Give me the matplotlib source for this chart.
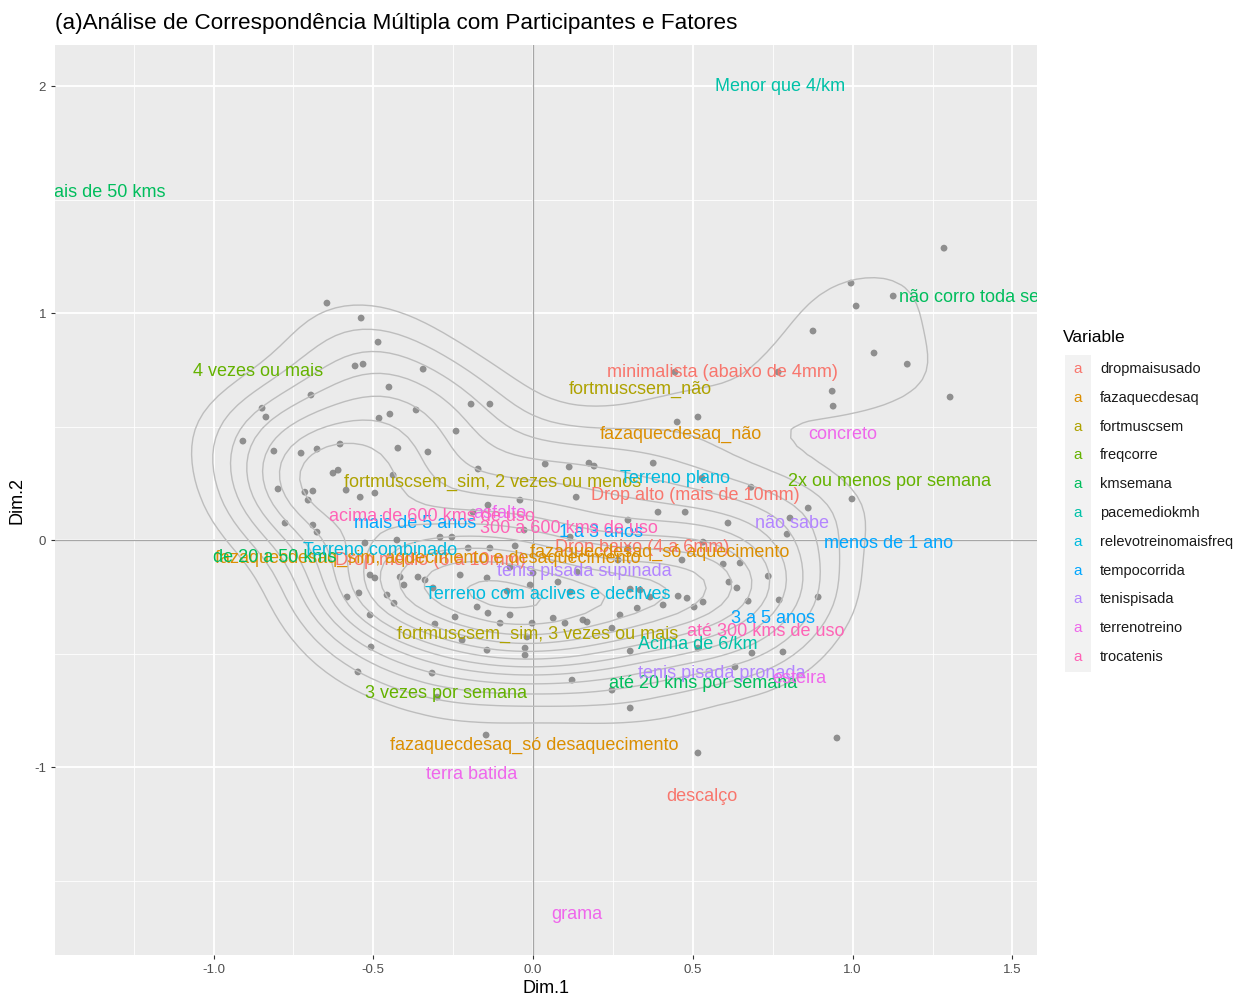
import numpy as np
import matplotlib
matplotlib.use("Agg")
import matplotlib.pyplot as plt
from matplotlib.ticker import MultipleLocator, MaxNLocator
from matplotlib.patches import Rectangle

plt.rcParams['font.family'] = ['Liberation Sans', 'DejaVu Sans']

# participantes (coordenadas)
ind_dim1 = [-0.645, -0.538, -0.485, -0.557, -0.532, -0.344, -0.451, -0.695, -0.848, -0.836,
            -0.482, -0.448, -0.366, -0.908, -0.811, -0.726, -0.676, -0.604, -0.423, -0.329,
            -0.194, -0.135, -0.241, 0.038, 0.113, 0.175, 0.191, 0.376, 0.451, 0.516,
            -0.172, 1.286, 0.995, 1.011, 0.876, 1.067, 1.171, 1.305, 0.936, 0.939,
            0.767, 0.444, 1.127, -0.626, -0.610, -0.438, -0.798, -0.714, -0.689, -0.704,
            -0.585, -0.541, -0.495, -0.776, -0.689, -0.676, -0.526, -0.426, -0.510, -0.495,
            -0.416, -0.404, -0.360, -0.338, -0.582, -0.545, -0.457, -0.435, -0.510, -0.507,
            -0.548, -0.316, 0.135, 0.391, 0.476, -0.141, -0.041, -0.188, -0.028, 0.116,
            -0.291, -0.056, -0.135, 0.297, 0.466, -0.228, -0.144, -0.009, -0.313, 0.116,
            -0.081, 0.304, 0.454, 0.482, -0.175, -0.141, -0.072, -0.244, 0.063, 0.169,
            0.272, 0.326, 0.407, -0.307, -0.103, -0.003, 0.100, 0.247, -0.222, -0.144,
            -0.025, -0.025, 0.304, 0.122, 0.304, 0.247, 0.998, 0.861, 0.682, 0.610,
            0.804, 0.795, 0.532, 0.595, 0.648, 0.736, 0.613, 0.638, 0.892, 0.770,
            0.673, 0.532, 0.504, 0.685, 0.782, 0.516, 0.632, 0.951, 0.516, -0.147,
            -0.300, 0.156, -0.019, 0.529, 0.297, -0.072, 0.000, 0.138, 0.266, 0.078,
            0.335, 0.366, -0.254, -0.203]
ind_dim2 = [1.044, 0.978, 0.872, 0.767, 0.775, 0.753, 0.674, 0.639, 0.581, 0.542,
            0.537, 0.555, 0.573, 0.436, 0.392, 0.383, 0.401, 0.423, 0.405, 0.388,
            0.599, 0.599, 0.480, 0.335, 0.322, 0.339, 0.326, 0.339, 0.520, 0.542,
            0.313, 1.286, 1.132, 1.031, 0.921, 0.824, 0.775, 0.630, 0.656, 0.590,
            0.740, 0.740, 1.075, 0.295, 0.308, 0.286, 0.225, 0.211, 0.216, 0.176,
            0.220, 0.189, 0.207, 0.075, 0.066, 0.035, -0.013, 0.000, -0.154, -0.167,
            -0.163, -0.198, -0.163, -0.176, -0.251, -0.233, -0.242, -0.278, -0.330, -0.471,
            -0.581, -0.586, 0.189, 0.123, 0.123, 0.154, 0.176, 0.123, 0.044, 0.013,
            0.013, -0.026, -0.035, -0.035, -0.088, -0.154, -0.167, -0.198, -0.211, -0.229,
            -0.225, -0.216, -0.247, -0.256, -0.295, -0.322, -0.330, -0.339, -0.344, -0.361,
            -0.330, -0.300, -0.286, -0.370, -0.366, -0.366, -0.366, -0.388, -0.441, -0.485,
            -0.476, -0.507, -0.489, -0.617, -0.740, -0.661, 0.181, 0.141, 0.233, 0.075,
            0.097, 0.026, -0.009, -0.106, -0.101, -0.159, -0.185, -0.211, -0.251, -0.264,
            -0.269, -0.273, -0.295, -0.498, -0.493, -0.476, -0.559, -0.872, -0.938, -0.859,
            -0.692, -0.352, -0.427, 0.273, 0.088, -0.119, -0.145, -0.141, -0.088, -0.185,
            -0.220, -0.251, 0.013, -0.035]

# categorias das variáveis
variables = ['dropmaisusado', 'fazaquecdesaq', 'fortmuscsem', 'freqcorre', 'kmsemana',
             'pacemediokmh', 'relevotreinomaisfreq', 'tempocorrida', 'tenispisada',
             'terrenotreino', 'trocatenis']
var_colors = ['#F8766D', '#DB8E00', '#AEA200', '#64B200', '#00BD5C', '#00C1A7',
              '#00BADE', '#00A6FF', '#B385FF', '#EF67EB', '#FF63B6']

cat_labels = ['minimalista (abaixo de 4mm)', 'Drop alto (mais de 10mm)', 'Drop baixo (4 a 6mm)',
              'Drop médio (6 a 10mm)', 'descalço',
              'fazaquecdesaq_não', 'fazaquecdesaq_só aquecimento',
              'fazaquecdesaq_sim, aquecimento e desaquecimento', 'fazaquecdesaq_só desaquecimento',
              'fortmuscsem_não', 'fortmuscsem_sim, 2 vezes ou menos', 'fortmuscsem_sim, 3 vezes ou mais',
              '4 vezes ou mais', '2x ou menos por semana', '3 vezes por semana',
              'mais de 50 kms', 'não corro toda semana', 'de 20 a 50 kms', 'até 20 kms por semana',
              'Menor que 4/km', 'Acima de 6/km',
              'Terreno plano', 'Terreno combinado', 'Terreno com aclives e declives',
              'menos de 1 ano', '3 a 5 anos', '1 a 3 anos', 'mais de 5 anos',
              'não sabe', 'tenis pisada supinada', 'tenis pisada pronada',
              'concreto', 'asfalto', 'terra batida', 'grama', 'esteira',
              'acima de 600 kms de uso', '300 a 600 kms de uso', 'até 300 kms de uso']
cat_var = [0, 0, 0, 0, 0,
           1, 1, 1, 1,
           2, 2, 2,
           3, 3, 3,
           4, 4, 4, 4,
           5, 5,
           6, 6, 6,
           7, 7, 7, 7,
           8, 8, 8,
           9, 9, 9, 9, 9,
           10, 10, 10]
cat_dim1 = [0.592, 0.507, 0.341, -0.320, 0.529,
            0.463, 0.397, -0.330, 0.003,
            0.335, -0.128, 0.013,
            -0.861, 1.114, -0.272,
            -1.349, 1.434, -0.807, 0.532,
            0.773, 0.516,
            0.444, -0.479, 0.047,
            1.111, 0.751, 0.213, -0.369,
            0.811, 0.160, 0.592,
            0.970, -0.103, -0.191, 0.138, 0.833,
            -0.316, 0.113, 0.729]
cat_dim2 = [0.740, 0.198, -0.031, -0.088, -1.128,
            0.467, -0.053, -0.079, -0.903,
            0.665, 0.256, -0.414,
            0.744, 0.260, -0.678,
            1.529, 1.070, -0.079, -0.634,
            1.996, -0.458,
            0.273, -0.048, -0.238,
            -0.013, -0.344, 0.035, 0.075,
            0.075, -0.137, -0.590,
            0.467, 0.119, -1.031, -1.648, -0.608,
            0.106, 0.053, -0.405]

x = np.array(ind_dim1)
y = np.array(ind_dim2)


# densidade 2d parecida com MASS::kde2d (usada pelo ggplot)
def bw_nrd(v):
    q1, q3 = np.percentile(v, [25, 75])
    h = (q3 - q1) / 1.34
    return 4 * 1.06 * min(np.std(v, ddof=1), h) * len(v) ** (-0.2)


all_x = np.concatenate([x, cat_dim1])
all_y = np.concatenate([y, cat_dim2])
gx = np.linspace(all_x.min(), all_x.max(), 100)
gy = np.linspace(all_y.min(), all_y.max(), 100)
hx = bw_nrd(x) / 4
hy = bw_nrd(y) / 4
kx = np.exp(-0.5 * ((gx[:, None] - x[None, :]) / hx) ** 2) / np.sqrt(2 * np.pi)
ky = np.exp(-0.5 * ((gy[:, None] - y[None, :]) / hy) ** 2) / np.sqrt(2 * np.pi)
z = kx @ ky.T / (len(x) * hx * hy)
levels = MaxNLocator(nbins=16, steps=[1, 2, 2.5, 5, 10]).tick_values(z.min(), z.max())
levels = levels[(levels > z.min()) & (levels < z.max())][1:]

fig = plt.figure(figsize=(12.54, 9.96), dpi=100)
ax = fig.add_axes([55 / 1254, 1 - 955 / 996, (1037 - 55) / 1254, (955 - 45) / 996])
ax.set_facecolor('#EBEBEB')
for s in ax.spines.values():
    s.set_visible(False)

ax.set_xlim(-1.496, 1.577)
ax.set_ylim(-1.828, 2.181)
ax.xaxis.set_major_locator(MultipleLocator(0.5))
ax.xaxis.set_minor_locator(MultipleLocator(0.25))
ax.yaxis.set_major_locator(MultipleLocator(1))
ax.yaxis.set_minor_locator(MultipleLocator(0.5))
ax.grid(which='major', color='white', lw=1.3)
ax.grid(which='minor', color='white', lw=0.6)
ax.set_axisbelow(True)
ax.tick_params(which='minor', length=0)
ax.tick_params(which='major', length=3, color='#333333', labelcolor='#4D4D4D', labelsize=9.5)
ax.set_xticks([-1.0, -0.5, 0.0, 0.5, 1.0, 1.5])
ax.set_xticklabels(['-1.0', '-0.5', '0.0', '0.5', '1.0', '1.5'])
ax.set_yticks([-1, 0, 1, 2])
ax.set_yticklabels(['-1', '0', '1', '2'])

ax.axhline(0, color='#A6A6A6', lw=0.9, zorder=1)
ax.axvline(0, color='#A6A6A6', lw=0.9, zorder=1)

ax.scatter(x, y, s=24, color='#7F7F7F', alpha=0.85, edgecolors='none', zorder=2)
ax.contour(gx, gy, z.T, levels=levels, colors='#BDBDBD', linewidths=1.0, zorder=3)

for lab, v, cx, cy in zip(cat_labels, cat_var, cat_dim1, cat_dim2):
    ax.text(cx, cy, lab, color=var_colors[v], fontsize=13, ha='center', va='center',
            clip_on=True, zorder=4)

ax.set_xlabel('Dim.1', fontsize=13, color='black', labelpad=3)
ax.set_ylabel('Dim.2', fontsize=13, color='black', labelpad=6)

fig.text(55 / 1254, 1 - 23 / 996, '(a)Análise de Correspondência Múltipla com Participantes e Fatores',
         fontsize=16.2, ha='left', va='center')

# legenda
fig.text(1063 / 1254, 1 - 338 / 996, 'Variable', fontsize=12.5, ha='left', va='center')
fig.patches.append(Rectangle((1065 / 1254, 1 - 672 / 996), 26 / 1254, 317 / 996,
                             transform=fig.transFigure, facecolor='#F2F2F2', edgecolor='none'))
for i, (v, c) in enumerate(zip(variables, var_colors)):
    yy = 1 - (369 + 28.8 * i) / 996
    fig.text(1078 / 1254, yy, 'a', color=c, fontsize=11, ha='center', va='center')
    fig.text(1100 / 1254, yy, v, color='#1A1A1A', fontsize=10.5, ha='left', va='center')

fig.savefig('out.png', dpi=100)
